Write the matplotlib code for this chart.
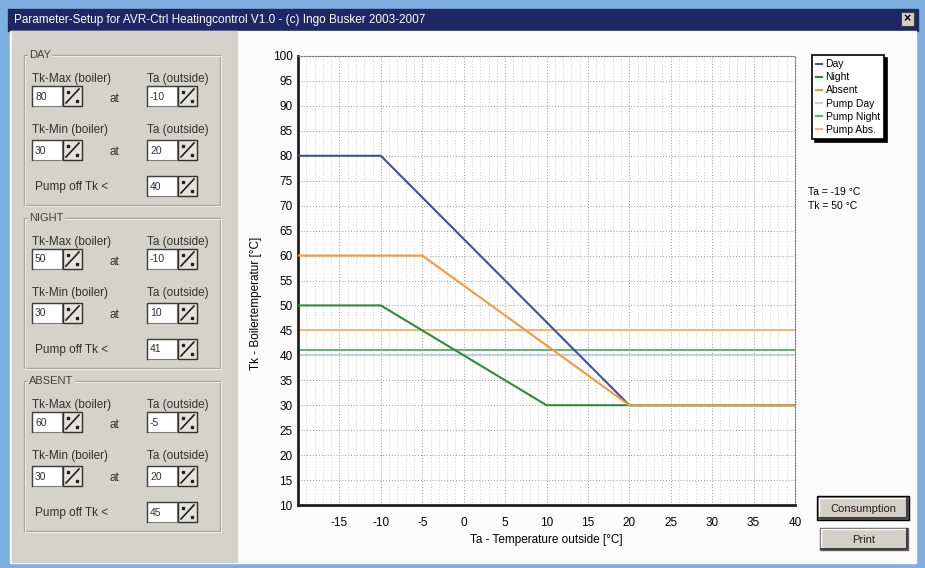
# Parameter-setup dialog of the heating control, redrawn with matplotlib.

import matplotlib
matplotlib.use('Agg')
import matplotlib.pyplot as plt
from matplotlib.patches import Rectangle

plt.rcParams['font.family'] = ['Liberation Sans', 'DejaVu Sans']
plt.rcParams['axes.unicode_minus'] = False

# Settings per mode (also shown in the left panel)
modes = ["DAY", "NIGHT", "ABSENT"]
tk_max = [80, 50, 60]        # boiler temperature at cold outside
ta_at_max = [-10, -10, -5]   # outside temperature where Tk-Max is reached
tk_min = [30, 30, 30]        # boiler temperature at warm outside
ta_at_min = [20, 10, 20]     # outside temperature where Tk-Min is reached
pump_off = [40, 41, 45]      # pump switches off below this Tk

line_labels = ["Day", "Night", "Absent"]
pump_labels = ["Pump Day", "Pump Night", "Pump Abs."]
line_colors = ['#3F4FA3', '#2E8B3E', '#F29A3C']
pump_colors = ['#C9CBF0', '#6DB26E', '#F6B678']

ta_range = [-20, 40]
tk_range = [10, 100]
cursor_ta = -19
cursor_tk = 50

title = "Parameter-Setup for AVR-Ctrl Heatingcontrol V1.0 - (c) Ingo Busker 2003-2007"

W, H = 925, 568
fig = plt.figure(figsize=(W / 100, H / 100), dpi=100)

# Background canvas in pixel coordinates
bg = fig.add_axes([0, 0, 1, 1], zorder=-1)
bg.set_xlim(0, W)
bg.set_ylim(H, 0)
bg.axis('off')

bg.add_patch(Rectangle((0, 0), W, H, color='#7DB0DF'))
bg.add_patch(Rectangle((8, 9), 910, 22, color='#1D2763'))
bg.text(14, 20, title, color='white', fontsize=8.5, va='center', ha='left')
# close box
bg.add_patch(Rectangle((901, 12), 13, 14, facecolor='#D4D0C8', edgecolor='#404040', lw=0.8))
bg.text(907.5, 19.5, "×", fontsize=9, fontweight='bold', ha='center', va='center', color='black')

bg.add_patch(Rectangle((10, 31), 906, 532, color='#FBFBFB'))
bg.add_patch(Rectangle((12, 31), 225, 531, color='#D5D2CC'))


def entry(x, y, value):
    # sunken edit field plus the small spin button
    bg.add_patch(Rectangle((x, y), 30, 20, facecolor='white', edgecolor='#7A7A7A', lw=0.8))
    bg.plot([x, x, x + 30], [y + 20, y, y], color='#404040', lw=1)
    bg.text(x + 3, y + 10.5, str(value), fontsize=7.5, va='center', ha='left', color='#303030')
    sx = x + 31
    bg.add_patch(Rectangle((sx, y), 19, 20, facecolor='#E4E2DD', edgecolor='#303030', lw=1))
    bg.plot([sx + 3, sx + 16], [y + 17, y + 3], color='#202020', lw=1.2)
    bg.plot([sx + 5, sx + 14], [y + 6, y + 15], 's', color='#202020', markersize=2)


lbl = dict(fontsize=8.5, va='center', ha='left', color='#303030')
for i, mode in enumerate(modes):
    top = 55 + i * 163
    bg.add_patch(Rectangle((24, top), 196, 150, fill=False, edgecolor='#A8A6A0', lw=1))
    bg.add_patch(Rectangle((25, top + 1), 196, 150, fill=False, edgecolor='#F4F4F4', lw=0.6))
    bg.text(29, top, mode, fontsize=8, va='center', ha='left', color='#404040',
            bbox=dict(facecolor='#D5D2CC', edgecolor='none', pad=1))
    bg.text(32, top + 24, "Tk-Max (boiler)", **lbl)
    bg.text(147, top + 24, "Ta (outside)", **lbl)
    entry(32, top + 31, tk_max[i])
    bg.text(110, top + 44, "at", **lbl)
    entry(147, top + 31, ta_at_max[i])
    bg.text(32, top + 75, "Tk-Min (boiler)", **lbl)
    bg.text(147, top + 75, "Ta (outside)", **lbl)
    entry(32, top + 85, tk_min[i])
    bg.text(110, top + 97, "at", **lbl)
    entry(147, top + 85, ta_at_min[i])
    bg.text(35, top + 132, "Pump off Tk <", **lbl)
    entry(147, top + 121, pump_off[i])

# Buttons
for (x0, y0, w, h, txt, default) in [(818, 497, 90, 22, "Consumption", True),
                                       (820, 528, 88, 22, "Print", False)]:
    bg.add_patch(Rectangle((x0, y0), w, h, facecolor='#D4D0C8', edgecolor='#606060', lw=1))
    bg.plot([x0 + 1, x0 + 1, x0 + w - 1], [y0 + h - 1, y0 + 1, y0 + 1], color='white', lw=1)
    bg.plot([x0 + 1, x0 + w - 1, x0 + w - 1], [y0 + h - 1, y0 + h - 1, y0 + 1], color='#404040', lw=1.5)
    if default:
        bg.add_patch(Rectangle((x0 - 1, y0 - 1), w + 2, h + 2, fill=False, edgecolor='black', lw=1))
    bg.text(x0 + w / 2, y0 + h / 2 + 1, txt, fontsize=8, ha='center', va='center', color='#202020')

# Chart
ax = fig.add_axes([298 / W, 1 - 505 / H, 497 / W, 449 / H])
ax.set_facecolor('white')

for i in range(len(modes)):
    ax.axhline(pump_off[i], color=pump_colors[i], lw=1.5, label=pump_labels[i], zorder=2)

for i in range(len(modes)):
    xs = [ta_range[0], ta_at_max[i], ta_at_min[i], ta_range[1]]
    ys = [tk_max[i], tk_max[i], tk_min[i], tk_min[i]]
    ax.plot(xs, ys, color=line_colors[i], lw=1.5, label=line_labels[i], zorder=3)

ax.set_xlim(ta_range)
ax.set_ylim(tk_range)
ax.set_xticks(range(-15, 41, 5))
ax.set_xticks(range(-20, 41, 1), minor=True)
ax.set_yticks(range(10, 101, 5))
ax.grid(True, which='major', color='#9A9A9A', linestyle=(0, (1, 2)), lw=0.7)
ax.grid(True, which='minor', axis='x', color='#C0C0C0', linestyle=(0, (1, 2.5)), lw=0.6)
ax.tick_params(which='both', length=0)
ax.tick_params(axis='x', pad=9, labelsize=8.5)
ax.tick_params(axis='y', pad=4, labelsize=8.5)

for side in ['left', 'bottom']:
    ax.spines[side].set_linewidth(2)
    ax.spines[side].set_color('#202020')
for side in ['top', 'right']:
    ax.spines[side].set_linestyle((0, (1, 1.5)))
    ax.spines[side].set_color('#707070')
    ax.spines[side].set_linewidth(0.8)

ax.set_xlabel("Ta - Temperature outside [°C]", fontsize=8.5, labelpad=3)
ax.set_ylabel("Tk - Boilertemperatur [°C]", fontsize=8.5)
ax.yaxis.set_label_coords(-0.072, 0.45)

handles, labels = ax.get_legend_handles_labels()
order = [3, 4, 5, 0, 1, 2]
leg = ax.legend([handles[k] for k in order], [labels[k] for k in order],
                loc='upper left', bbox_to_anchor=(812 / W, 1 - 55 / H),
                bbox_transform=fig.transFigure, fontsize=7.5, frameon=True,
                fancybox=False, shadow={'color': 'black', 'alpha': 1},
                edgecolor='black', handlelength=0.6, handletextpad=0.3,
                labelspacing=0.3, borderpad=0.4, borderaxespad=0)
leg.get_frame().set_linewidth(1.2)

bg.text(808, 192, f"Ta = {cursor_ta} °C", fontsize=7.5, ha='left', va='center')
bg.text(808, 206, f"Tk = {cursor_tk} °C", fontsize=7.5, ha='left', va='center')

fig.savefig('out.png', dpi=100)
